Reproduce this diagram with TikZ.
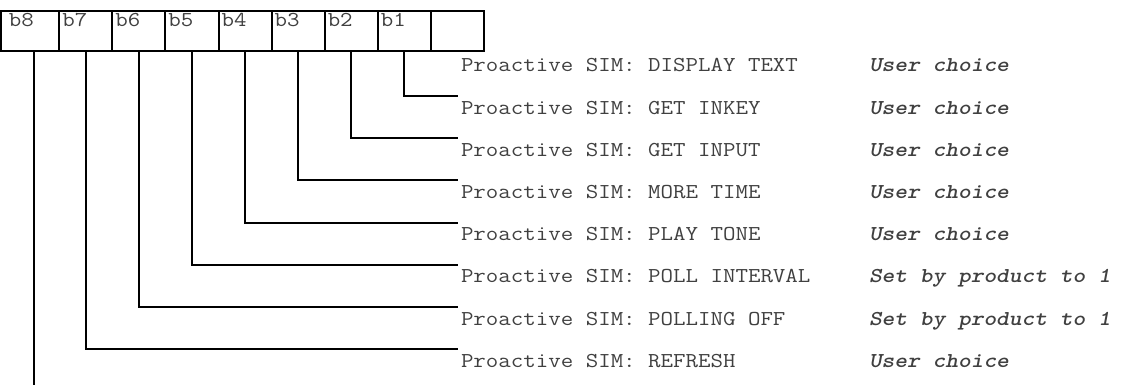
\documentclass[tikz,border=0pt]{standalone}
\usepackage{fontspec}
\usepackage{graphicx}
\definecolor{txt}{HTML}{404040}
\newcommand\wid[1]{\scalebox{1.143}[1]{#1}}
\tikzset{
  cell/.style={draw, line width=2pt, minimum height=40pt, minimum width=53.09pt, inner sep=0pt, outer sep=0pt},
  lab/.style={anchor=base west, inner sep=0pt, outer sep=0pt, text=txt, font=\ttfamily\fontsize{21.2}{24}\selectfont},
  prop/.style={lab},
  val/.style={lab, font=\ttfamily\bfseries\itshape\fontsize{21.2}{24}\selectfont},
  lead/.style={line width=2pt},
}
\begin{document}
\begin{tikzpicture}[x=1pt,y=-1pt]
\useasboundingbox (0,0) rectangle (1121,385);
% byte cells
\node[cell, minimum width=58.3pt] (c8) at (30.15,31.5) {};
\foreach \i [count=\j from 0] in {7,6,5,4,3,2,1,0} {
  \node[cell] (c\i) at ({85.845+53.09*\j},31.5) {};
}
\node[lab] (l8) at ([shift={(8pt,-15pt)}]c8.north west) {\wid{b8}};
\foreach \i in {7,6,5,4,3,2,1} {
  \node[lab] (l\i) at ([shift={(3pt,-15pt)}]c\i.north west) {\wid{b\i}};
}
% rows
\foreach \k/\nm/\vl in {1/DISPLAY TEXT/User choice,
                        2/GET INKEY/User choice,
                        3/GET INPUT/User choice,
                        4/MORE TIME/User choice,
                        5/PLAY TONE/User choice,
                        6/POLL INTERVAL/Set by product to 1,
                        7/POLLING OFF/Set by product to 1,
                        8/REFRESH/User choice} {
  \node[prop] (p\k) at (461,{72+42.17*(\k-1)}) {\wid{Proactive SIM: \nm}};
  \node[val] (v\k) at (869,{72+42.17*(\k-1)}) {\wid{\vl}};
}
% connectors
\foreach \i in {1,...,7} {
  \coordinate (e\i) at ([shift={(-3pt,-24pt)}]p\i.base west);
  \draw[lead] (c\i.south) |- (e\i);
}
\coordinate (e8) at (33.5,386);
\draw[lead] ([xshift=3.35pt]c8.south) -- (e8);
\end{tikzpicture}
\end{document}
